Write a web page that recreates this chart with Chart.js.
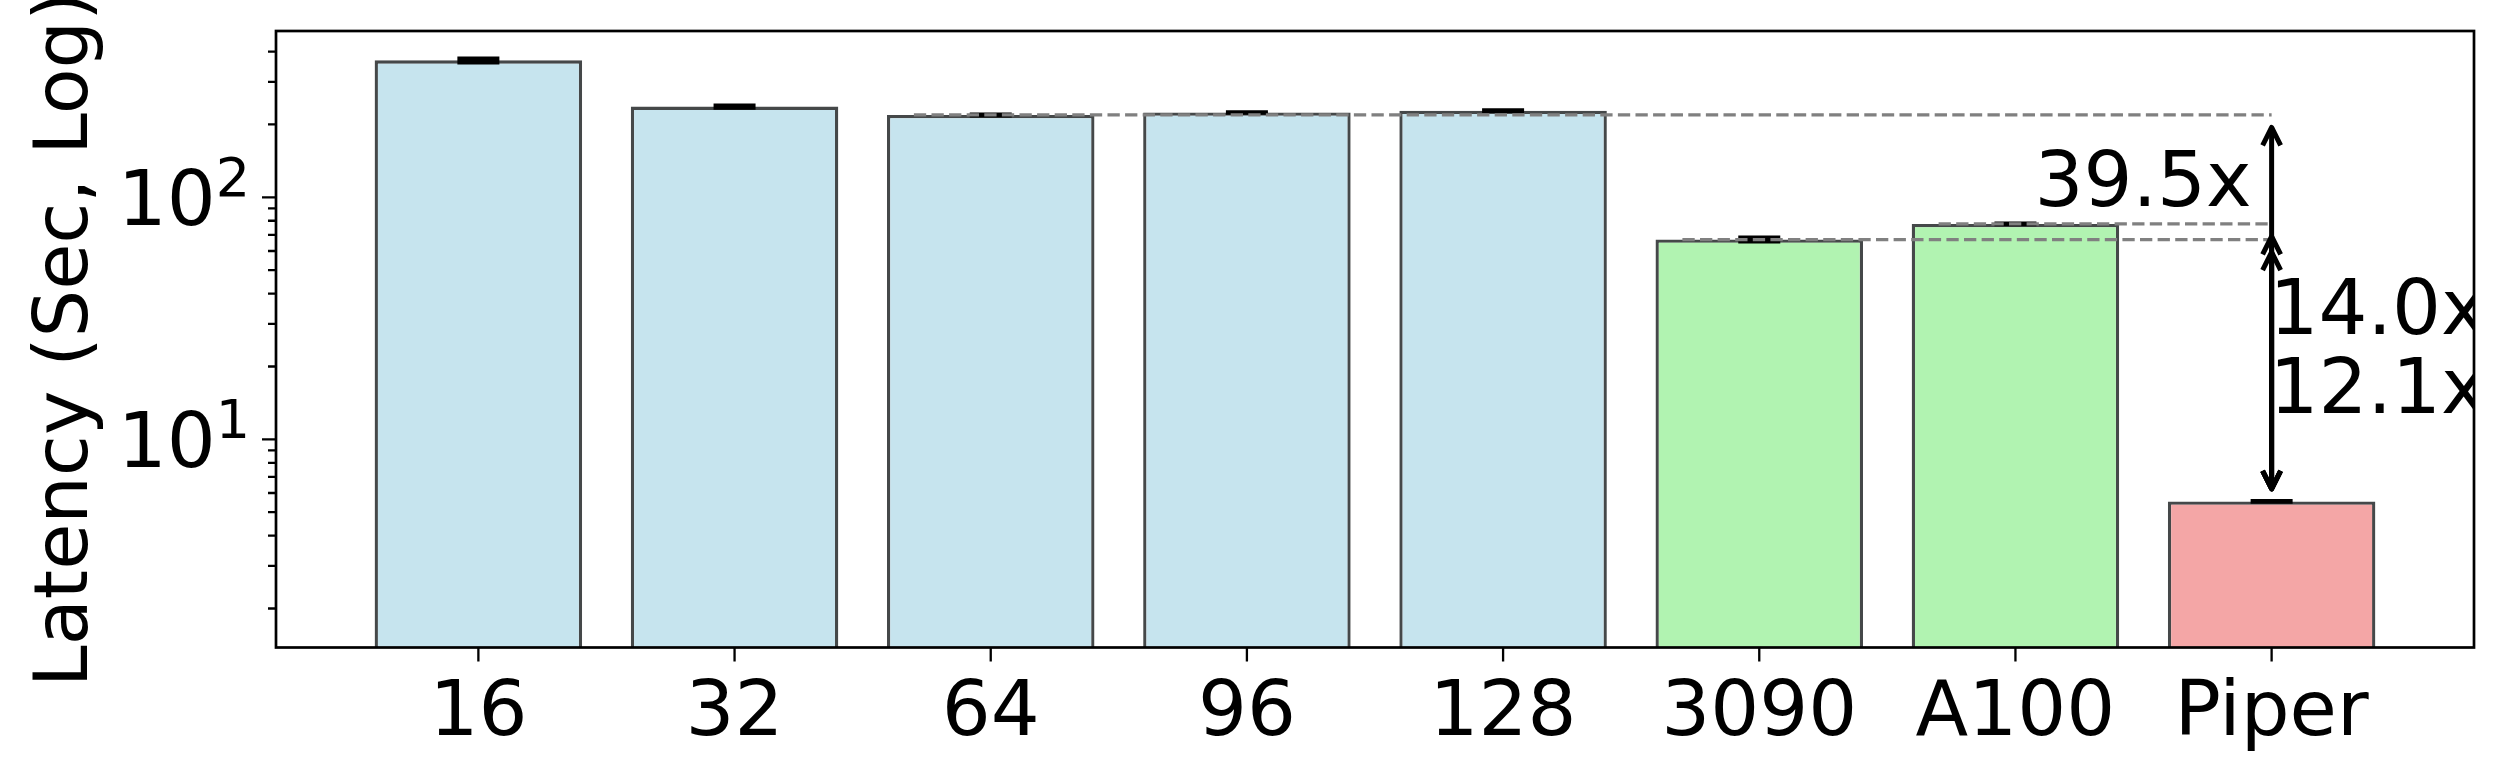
<!DOCTYPE html>
<html><head><meta charset="utf-8">
<script src="https://cdn.jsdelivr.net/npm/chart.js@4/dist/chart.umd.min.js"></script>
<style>html,body{margin:0;padding:0;background:#fff;}#wrap{width:2509px;height:780px;}</style>
</head><body><div id="wrap"><canvas id="c" width="2509" height="780"></canvas></div>
<script>
// ---- data ----
const categories = ['16', '32', '64', '96', '128', '3090', 'A100', 'Piper'];
const latency = [368, 237, 219, 224, 228, 66.9, 77.6, 5.54];
const latencyErr = [7, 2.8, 1.0, 0.5, 0.7, 1.3, 0.3, 0.02];
const barGroup = ['cpu', 'cpu', 'cpu', 'cpu', 'cpu', 'gpu', 'gpu', 'piper'];
const yMajorTicks = [10, 100];
const yMajorTickLabels = [['10', '1'], ['10', '2']];
const yMinorTicks = [2, 3, 4, 5, 6, 7, 8, 9, 20, 30, 40, 50, 60, 70, 80, 90, 200, 300, 400];
const speedupLabels = ['39.5x', '14.0x', '12.1x'];
const speedupRef = [2, 6, 5];
const speedupTarget = 7;
const yTitle = 'Latency (Sec, Log)';

// ---- styles ----
const groupColor = { cpu: '#c6e4ee', gpu: '#b1f3b1', piper: '#f4a6a6' };
const FONT = '"DejaVu Sans", "Liberation Sans", sans-serif';
// label anchors (data-space y, text alignment, pixel x offset from arrow)
const labelAnchor = [
  { y: 92.3, align: 'right', dx: -20 },
  { y: 27.2, align: 'left', dx: -2 },
  { y: 12.8, align: 'left', dx: -2 }
];

const overlay = {
  id: 'overlay',
  afterDatasetsDraw(chart) {
    const { ctx, chartArea: a, scales: { x, y } } = chart;
    ctx.save();
    // error bars
    ctx.strokeStyle = '#000';
    latency.forEach((v, i) => {
      const xp = x.getPixelForValue(i);
      const hi = y.getPixelForValue(v + latencyErr[i]);
      const lo = y.getPixelForValue(v - latencyErr[i]);
      ctx.lineWidth = 3;
      ctx.beginPath(); ctx.moveTo(xp, hi); ctx.lineTo(xp, lo); ctx.stroke();
      ctx.lineWidth = 4;
      ctx.beginPath();
      ctx.moveTo(xp - 21, hi); ctx.lineTo(xp + 21, hi);
      ctx.moveTo(xp - 21, lo); ctx.lineTo(xp + 21, lo);
      ctx.stroke();
    });
    // clip to plotting area
    ctx.beginPath(); ctx.rect(a.left, a.top, a.right - a.left, a.bottom - a.top); ctx.clip();
    // dashed reference lines
    ctx.strokeStyle = '#808080';
    ctx.lineWidth = 3.3;
    ctx.setLineDash([12.3, 5.3]);
    speedupRef.forEach(r => {
      const yp = y.getPixelForValue(latency[r]);
      ctx.beginPath();
      ctx.moveTo(x.getPixelForValue(r - 0.3), yp);
      ctx.lineTo(x.getPixelForValue(speedupTarget), yp);
      ctx.stroke();
    });
    ctx.setLineDash([]);
    // double arrows
    const ax = x.getPixelForValue(speedupTarget);
    const shrink = 12.5, hl = 18, hw = 9;
    ctx.strokeStyle = '#000';
    ctx.lineWidth = 5;
    ctx.lineJoin = 'round';
    ctx.lineCap = 'butt';
    speedupRef.forEach(r => {
      const top = y.getPixelForValue(latency[r]) + shrink;
      const bot = y.getPixelForValue(latency[speedupTarget]) - shrink;
      ctx.beginPath(); ctx.moveTo(ax, top); ctx.lineTo(ax, bot); ctx.stroke();
      ctx.beginPath();
      ctx.moveTo(ax - hw, top + hl); ctx.lineTo(ax, top); ctx.lineTo(ax + hw, top + hl);
      ctx.stroke();
      ctx.beginPath();
      ctx.moveTo(ax - hw, bot - hl); ctx.lineTo(ax, bot); ctx.lineTo(ax + hw, bot - hl);
      ctx.stroke();
    });
    // speedup labels
    ctx.fillStyle = '#000';
    ctx.font = '77px ' + FONT;
    ctx.textBaseline = 'alphabetic';
    speedupLabels.forEach((t, k) => {
      const an = labelAnchor[k];
      ctx.textAlign = an.align;
      ctx.fillText(t, ax + an.dx, y.getPixelForValue(an.y));
    });
    ctx.restore();
  },
  afterDraw(chart) {
    const { ctx, chartArea: a, scales: { x, y } } = chart;
    ctx.save();
    // spines
    ctx.strokeStyle = '#000';
    ctx.lineWidth = 2.7;
    ctx.strokeRect(a.left, a.top, a.right - a.left, a.bottom - a.top);
    // y ticks
    ctx.lineWidth = 2.3;
    ctx.beginPath();
    yMajorTicks.forEach(t => { const p = y.getPixelForValue(t); ctx.moveTo(a.left - 14, p); ctx.lineTo(a.left, p); });
    yMinorTicks.forEach(t => { const p = y.getPixelForValue(t); ctx.moveTo(a.left - 8, p); ctx.lineTo(a.left, p); });
    // x ticks
    categories.forEach((c, i) => { const p = x.getPixelForValue(i); ctx.moveTo(p, a.bottom); ctx.lineTo(p, a.bottom + 14); });
    ctx.stroke();
    // x tick labels
    ctx.fillStyle = '#000';
    ctx.font = '77px ' + FONT;
    ctx.textAlign = 'center';
    ctx.textBaseline = 'alphabetic';
    categories.forEach((c, i) => ctx.fillText(c, x.getPixelForValue(i), a.bottom + 87.5));
    // y tick labels (10^n)
    yMajorTicks.forEach((t, k) => {
      const p = y.getPixelForValue(t);
      const [base, ex] = yMajorTickLabels[k];
      ctx.font = '54px ' + FONT;
      const we = ctx.measureText(ex).width;
      ctx.textAlign = 'right';
      ctx.fillText(ex, 250, p - 1);
      ctx.font = '77px ' + FONT;
      ctx.fillText(base, 250 - we, p + 28);
    });
    // y title
    ctx.font = '75px ' + FONT;
    ctx.translate(87, (a.top + a.bottom) / 2);
    ctx.rotate(-Math.PI / 2);
    ctx.textAlign = 'center';
    ctx.fillText(yTitle, 0, 0);
    ctx.restore();
  }
};

new Chart(document.getElementById('c'), {
  type: 'bar',
  data: {
    datasets: [{
      data: categories.map((c, i) => ({ x: i, y: latency[i] })),
      backgroundColor: barGroup.map(g => groupColor[g]),
      borderColor: '#454849',
      borderWidth: 3.3,
      borderSkipped: 'start',
      categoryPercentage: 1,
      barPercentage: 0.81
    }]
  },
  options: {
    responsive: false,
    animation: false,
    devicePixelRatio: 1,
    layout: { padding: { left: 276, top: 31, right: 35, bottom: 132.5 } },
    plugins: { legend: { display: false }, tooltip: { enabled: false }, title: { display: false } },
    scales: {
      x: {
        type: 'linear', display: false, offset: false, min: -0.79, max: 7.79,
        grid: { offset: false },
        afterBuildTicks: s => { s.ticks = categories.map((c, i) => ({ value: i })); }
      },
      y: { type: 'logarithmic', display: false, min: 1.38, max: 486.6 }
    }
  },
  plugins: [overlay]
});
</script></body></html>
